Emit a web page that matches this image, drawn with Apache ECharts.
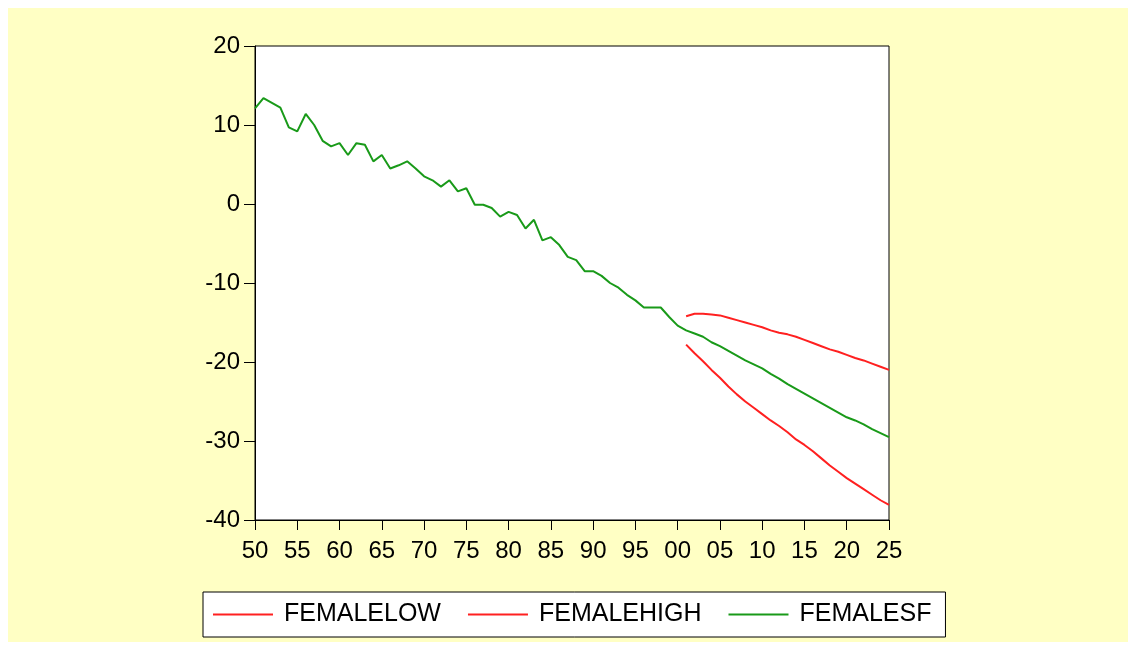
<!DOCTYPE html>
<html>
<head>
<meta charset="utf-8">
<script src="https://cdn.jsdelivr.net/npm/echarts@6/dist/echarts.min.js"></script>
<style>
html,body{margin:0;padding:0;background:#ffffff;}
#frame{position:absolute;left:8px;top:8px;width:1120px;height:634px;background:#FFFFC4;}
#chart{position:absolute;left:-8px;top:-8px;width:1136px;height:650px;}
</style>
</head>
<body>
<div id="frame"><div id="chart"></div></div>
<script>
// Historical + forecast years
const years = [];
for (let y = 1950; y <= 2025; y++) years.push(y);
const forecastYears = [];
for (let y = 2001; y <= 2025; y++) forecastYears.push(y);

const femaleSF = [
  12.1, 13.4, 12.8, 12.2, 9.7, 9.2, 11.4, 10.0, 8.0, 7.3,
  7.7, 6.2, 7.7, 7.5, 5.4, 6.2, 4.5, 4.9, 5.4, 4.5,
  3.5, 3.0, 2.2, 3.0, 1.6, 2.0, -0.1, -0.1, -0.5, -1.6,
  -1.0, -1.4, -3.1, -2.0, -4.6, -4.2, -5.2, -6.7, -7.1, -8.5,
  -8.5, -9.1, -10.0, -10.6, -11.5, -12.2, -13.1, -13.1, -13.1, -14.3,
  -15.4, -16.0, -16.4, -16.8, -17.5, -18.0, -18.6, -19.2, -19.8, -20.3,
  -20.8, -21.5, -22.1, -22.8, -23.4, -24.0, -24.6, -25.2, -25.8, -26.4,
  -27.0, -27.4, -27.9, -28.5, -29.0, -29.5
];
const femaleLow = [
  -17.8, -18.9, -19.9, -21.0, -22.0, -23.1, -24.1, -25.0, -25.8, -26.6,
  -27.4, -28.1, -28.9, -29.8, -30.5, -31.3, -32.2, -33.1, -33.9, -34.7,
  -35.4, -36.1, -36.8, -37.5, -38.1
];
const femaleHigh = [
  -14.2, -13.9, -13.9, -14.0, -14.1, -14.4, -14.7, -15.0, -15.3, -15.6,
  -16.0, -16.3, -16.5, -16.8, -17.2, -17.6, -18.0, -18.4, -18.7, -19.1,
  -19.5, -19.8, -20.2, -20.6, -21.0
];
const seriesNames = ['FEMALELOW', 'FEMALEHIGH', 'FEMALESF'];

const pair = (xs, vs) => xs.map((x, i) => [x, vs[i]]);

const chart = echarts.init(document.getElementById('chart'), null, {renderer: 'canvas'});
const fontFamily = '"Liberation Sans", Arial, sans-serif';
chart.setOption({
  backgroundColor: 'transparent',
  animation: false,
  grid: {
    left: 255, top: 46, width: 634, height: 474,
    show: true, backgroundColor: '#ffffff', borderColor: '#000000', borderWidth: 1
  },
  xAxis: {
    type: 'value', min: 1950, max: 2025, interval: 5,
    axisLine: {show: true, onZero: false, lineStyle: {color: '#000', width: 1}},
    axisTick: {show: true, inside: false, length: 10, lineStyle: {color: '#000'}},
    splitLine: {show: false},
    axisLabel: {
      color: '#000', fontSize: 24, fontFamily: fontFamily, margin: 19,
      formatter: v => String(v).slice(2)
    }
  },
  yAxis: {
    type: 'value', min: -40, max: 20, interval: 10,
    axisLine: {show: true, onZero: false, lineStyle: {color: '#000', width: 1}},
    axisTick: {show: true, inside: false, length: 11, lineStyle: {color: '#000'}},
    splitLine: {show: false},
    axisLabel: {color: '#000', fontSize: 24, fontFamily: fontFamily, margin: 15}
  },
  legend: {
    left: 203, top: 592,
    data: seriesNames,
    itemWidth: 60, itemHeight: 2, icon: 'rect', itemGap: 27,
    padding: [10, 14, 10, 10],
    backgroundColor: '#ffffff', borderColor: '#000000', borderWidth: 1,
    textStyle: {color: '#000', fontSize: 25, fontFamily: fontFamily, padding: [0, 0, 0, 6]}
  },
  series: [
    {name: seriesNames[0], type: 'line', data: pair(forecastYears, femaleLow), symbol: 'none',
     lineStyle: {color: '#FF2020', width: 2}, itemStyle: {color: '#FF2020'}},
    {name: seriesNames[1], type: 'line', data: pair(forecastYears, femaleHigh), symbol: 'none',
     lineStyle: {color: '#FF2020', width: 2}, itemStyle: {color: '#FF2020'}},
    {name: seriesNames[2], type: 'line', data: pair(years, femaleSF), symbol: 'none',
     lineStyle: {color: '#199A19', width: 2}, itemStyle: {color: '#199A19'}}
  ]
});
</script>
</body>
</html>
